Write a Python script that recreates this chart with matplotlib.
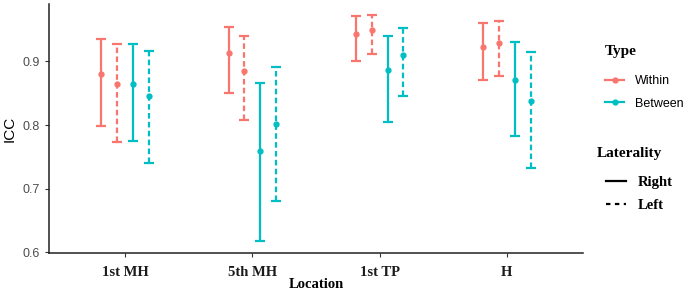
import matplotlib.pyplot as plt
import numpy as np
from matplotlib.lines import Line2D

locations = ['1st MH', '5th MH', '1st TP', 'H']

# ICC estimates and 95% CI, per location
within_right = [0.880, 0.913, 0.943, 0.923]
within_right_lo = [0.798, 0.851, 0.901, 0.870]
within_right_hi = [0.935, 0.954, 0.971, 0.961]

within_left = [0.865, 0.885, 0.949, 0.929]
within_left_lo = [0.774, 0.808, 0.911, 0.877]
within_left_hi = [0.928, 0.940, 0.973, 0.963]

between_right = [0.865, 0.759, 0.886, 0.871]
between_right_lo = [0.775, 0.618, 0.805, 0.783]
between_right_hi = [0.928, 0.866, 0.940, 0.931]

between_left = [0.845, 0.802, 0.910, 0.838]
between_left_lo = [0.741, 0.680, 0.846, 0.733]
between_left_hi = [0.916, 0.891, 0.953, 0.914]

red = '#F8766D'
cyan = '#00BFC4'
dash = (0, (2.5, 1.5))

fig = plt.figure(figsize=(6.92, 2.95), dpi=100)
ax = fig.add_axes([0.0708, 0.1414, 0.7717, 0.8446])

x = np.arange(1, len(locations) + 1)
series = [
    (within_right, within_right_lo, within_right_hi, red, '-', -0.1875),
    (within_left, within_left_lo, within_left_hi, red, dash, -0.0625),
    (between_right, between_right_lo, between_right_hi, cyan, '-', 0.0625),
    (between_left, between_left_lo, between_left_hi, cyan, dash, 0.1875),
]
for vals, lo, hi, col, ls, off in series:
    vals = np.array(vals)
    err = [vals - np.array(lo), np.array(hi) - vals]
    eb = ax.errorbar(x + off, vals, yerr=err, fmt='o', color=col, ms=3.5,
                     elinewidth=1.6, capsize=3.5, capthick=1.6)
    eb[2][0].set_linestyle(ls)

ax.set_xlim(0.4, 4.6)
ax.set_ylim(0.5984, 0.990)
ax.set_yticks([0.6, 0.7, 0.8, 0.9])
ax.set_yticklabels(['0.6', '0.7', '0.8', '0.9'], family='Liberation Sans',
                   fontsize=9, color='#4d4d4d')
ax.set_xticks(x)
ax.set_xticklabels(locations, family='Liberation Serif', fontweight='bold',
                   fontsize=10.5, color='#1a1a1a')
ax.tick_params(axis='both', length=3, color='#333333', width=0.8)
ax.tick_params(axis='x', pad=6)
for s in ['top', 'right']:
    ax.spines[s].set_visible(False)
for s in ['left', 'bottom']:
    ax.spines[s].set_linewidth(1.1)
    ax.spines[s].set_color('#222222')

ax.set_ylabel('ICC', family='Liberation Sans', fontsize=11, labelpad=4)
fig.text(0.457, 0.015, 'Location', family='Liberation Serif',
         fontweight='bold', fontsize=10.5, ha='center', va='bottom')

# legend titles as separate texts
fig.text(605 / 692, 1 - 52 / 295, 'Type', family='Liberation Serif',
         fontweight='bold', fontsize=11, ha='left', va='center')
fig.text(597 / 692, 1 - 153 / 295, 'Laterality', family='Liberation Serif',
         fontweight='bold', fontsize=11, ha='left', va='center')

type_handles = [
    Line2D([], [], color=red, marker='o', ms=3.5, lw=1.6),
    Line2D([], [], color=cyan, marker='o', ms=3.5, lw=1.6),
]
fig.legend(type_handles, ['Within', 'Between'], loc='upper left',
           bbox_to_anchor=(0.865, 0.767), frameon=False, borderpad=0,
           handlelength=1.55, handletextpad=0.85, labelspacing=0.85,
           prop={'family': 'Liberation Sans', 'size': 9})

lat_handles = [
    Line2D([], [], color='black', lw=1.6),
    Line2D([], [], color='black', lw=1.6, ls=(0, (2, 2))),
]
fig.legend(lat_handles, ['Right', 'Left'], loc='upper left',
           bbox_to_anchor=(0.865, 0.43), frameon=False, borderpad=0,
           handlelength=1.4, handletextpad=0.8, labelspacing=0.7,
           prop={'family': 'Liberation Serif', 'weight': 'bold', 'size': 10.5})

fig.savefig('out.png', dpi=100)
